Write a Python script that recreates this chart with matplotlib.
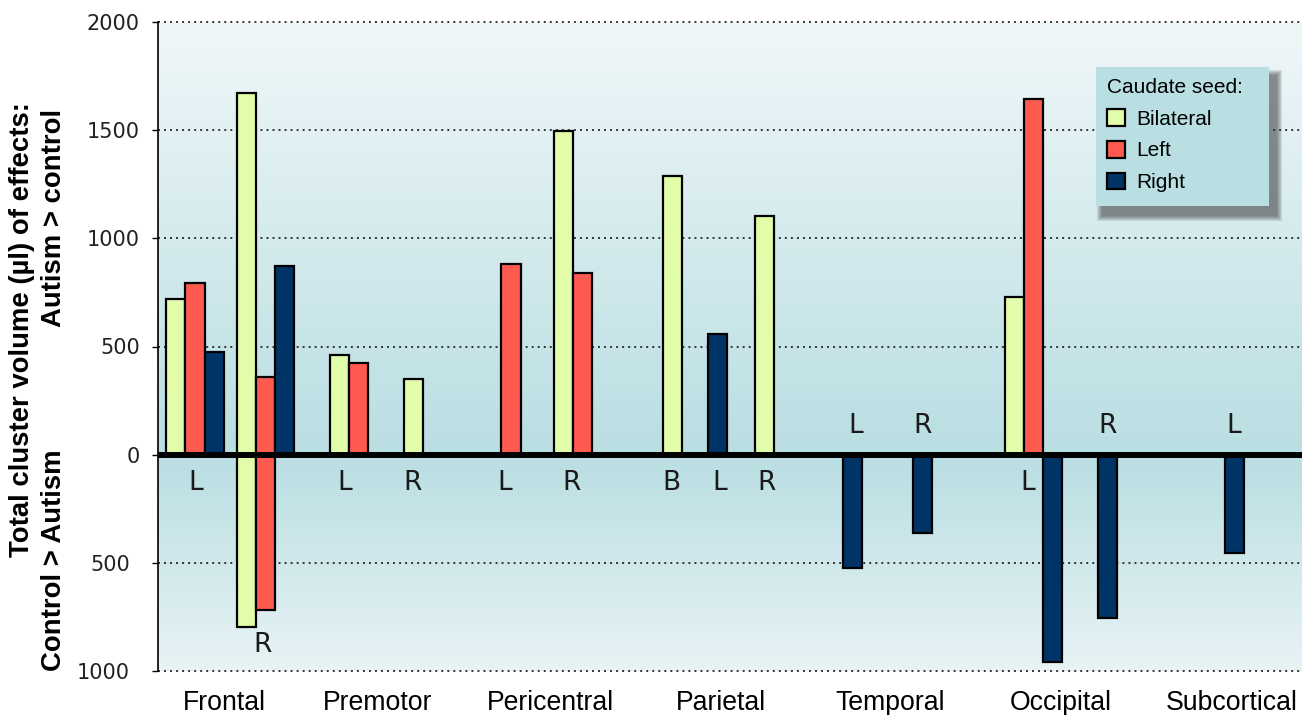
import numpy as np
import matplotlib.pyplot as plt
from matplotlib.patches import Rectangle
from matplotlib.transforms import ScaledTranslation

# ---- data ----
regions = ['Frontal', 'Premotor', 'Pericentral', 'Parietal', 'Temporal', 'Occipital', 'Subcortical']
hemis = ['L', 'R', 'L', 'R', 'L', 'R', 'B', 'L', 'R', 'L', 'R', 'L', 'R', 'L']

seed_names = ['Bilateral', 'Left', 'Right']
seed_colors = ['#e2fdaa', '#ff5a50', '#003366']

# Autism > control (up) and Control > Autism (down), one entry per hemisphere cluster
bilateral_up = [720, 1670, 460, 350, 0, 1495, 1290, 0, 1105, 0, 0, 730, 0, 0]
bilateral_down = [0, -795, 0, 0, 0, 0, 0, 0, 0, 0, 0, 0, 0, 0]
left_up = [795, 360, 425, 0, 880, 840, 0, 0, 0, 0, 0, 1645, 0, 0]
left_down = [0, -720, 0, 0, 0, 0, 0, 0, 0, 0, 0, 0, 0, 0]
right_up = [475, 870, 0, 0, 0, 0, 0, 560, 0, 0, 0, 0, 0, 0]
right_down = [0, 0, 0, 0, 0, 0, 0, 0, 0, -525, -360, -960, -755, -455]

yticks = [-1000, -500, 0, 500, 1000, 1500, 2000]

# ---- layout (x in bar widths) ----
cluster_x = [1.9, 5.5, 9.8, 13.1, 18.1, 21.3, 26.4, 28.7, 31.1, 35.6, 39.2, 44.9, 48.7, 55.2]
label_x = [1.95, 5.38, 9.59, 13.08, 17.79, 21.23, 26.33, 28.82, 31.23, 35.77, 39.23, 44.62, 48.67, 55.18]
label_y = [-129, -878, -129, -129, -129, -129, -129, -129, -129, 132, 132, -129, 132, 132]
region_x = [3.38, 11.28, 20.10, 28.87, 37.54, 46.31, 55.08]
xmax = 1144 / 19.5
width = 0.98


def main():
    fig = plt.figure(figsize=(13.02, 7.15), dpi=100)
    ax = fig.add_axes([158 / 1302, 1 - 671 / 715, 1144 / 1302, 649 / 715])
    ax.set_xlim(0, xmax)
    ax.set_ylim(-1000, 2000)

    # background gradient
    yy = np.linspace(-1000, 2000, 400)
    stops_v = [-1000, 0, 2000]
    stops_c = np.array([[232, 243, 245], [185, 222, 226], [240, 247, 249]]) / 255.0
    grad = np.stack([np.interp(yy, stops_v, stops_c[:, k]) for k in range(3)], axis=-1)
    ax.imshow(grad[:, None, :], extent=(0, xmax, -1000, 2000), origin='lower',
              aspect='auto', zorder=0, interpolation='bilinear')

    for t in yticks:
        if t != 0:
            ax.axhline(t, color='#333333', lw=1.4, ls=(0, (1, 2.1)), zorder=1, clip_on=False)

    ups = [bilateral_up, left_up, right_up]
    downs = [bilateral_down, left_down, right_down]

    # pack the seeds present in each cluster side by side around its centre
    xs = [[None] * len(cluster_x) for _ in range(3)]
    for c, cx in enumerate(cluster_x):
        present = [s for s in range(3) if ups[s][c] != 0 or downs[s][c] != 0]
        n = len(present)
        for k, s in enumerate(present):
            xs[s][c] = cx + (k - (n - 1) / 2) * width

    handles = []
    for s in range(3):
        for vals in (ups[s], downs[s]):
            px = [xs[s][c] for c in range(len(vals)) if vals[c] != 0]
            pv = [v for v in vals if v != 0]
            b = ax.bar(px, pv, width=width, color=seed_colors[s], edgecolor='black',
                       linewidth=1.6, zorder=2)
        handles.append(b)

    ax.axhline(0, color='black', lw=4.3, zorder=3)

    for x, y, h in zip(label_x, label_y, hemis):
        ax.text(x, y, h, ha='center', va='center', fontsize=19, color='#1a1a1a', zorder=4)

    for x, r in zip(region_x, regions):
        ax.text(x, -1182, r, ha='center', va='baseline', fontsize=19.2,
                family='Liberation Sans', color='black', clip_on=False)

    # axes styling
    for side in ['top', 'right', 'bottom']:
        ax.spines[side].set_visible(False)
    ax.spines['left'].set_linewidth(1.2)
    ax.set_xticks([])
    ax.set_yticks(yticks)
    ax.set_yticklabels([str(abs(t)) for t in yticks])
    ax.tick_params(axis='y', length=4, width=1, pad=9, labelsize=15, labelcolor='#222222')
    for t, lab in zip(yticks, ax.get_yticklabels()):
        if t < 0:
            lab.set_transform(lab.get_transform() + ScaledTranslation(-10 / 100, 0, fig.dpi_scale_trans))

    fig.text(22 / 1302, 1 - 330 / 715, 'Total cluster volume (µl) of effects:', rotation=90,
             ha='center', va='center', fontsize=19.8, fontweight='bold', family='Liberation Sans')
    fig.text(54 / 1302, 1 - 218 / 715, 'Autism > control', rotation=90,
             ha='center', va='center', fontsize=19.8, fontweight='bold', family='Liberation Sans')
    fig.text(54 / 1302, 1 - 560 / 715, 'Control > Autism', rotation=90,
             ha='center', va='center', fontsize=19.8, fontweight='bold', family='Liberation Sans')

    # legend box with soft shadow
    bx0, by0, bx1, by1 = 1096, 67, 1269, 206
    for i in range(6):
        g = 6 - i
        fig.add_artist(Rectangle(((bx0 + 7 - g) / 1302, 1 - (by1 + 9 + g) / 715),
                                 (bx1 - bx0 + 2 * g) / 1302, (by1 - by0 + 2 * g) / 715,
                                 transform=fig.transFigure, facecolor='#333333',
                                 edgecolor='none', alpha=0.12, zorder=1))
    fig.add_artist(Rectangle((bx0 / 1302, 1 - by1 / 715), (bx1 - bx0) / 1302, (by1 - by0) / 715,
                             transform=fig.transFigure, facecolor='#b9dfe3',
                             edgecolor='none', zorder=2))
    leg = fig.legend(handles, seed_names, loc='upper left',
                     bbox_to_anchor=(1107 / 1302, 1 - 78 / 715), bbox_transform=fig.transFigure,
                     frameon=False, title='Caudate seed:', alignment='left',
                     prop={'family': 'Liberation Sans', 'size': 15}, title_fontsize=15,
                     handlelength=0.87, handleheight=0.87, handletextpad=0.53,
                     labelspacing=0.58, borderpad=0, borderaxespad=0)
    leg.set_zorder(5)
    leg.get_title().set_family('Liberation Sans')

    fig.savefig('out.png', dpi=100)


if __name__ == '__main__':
    main()
